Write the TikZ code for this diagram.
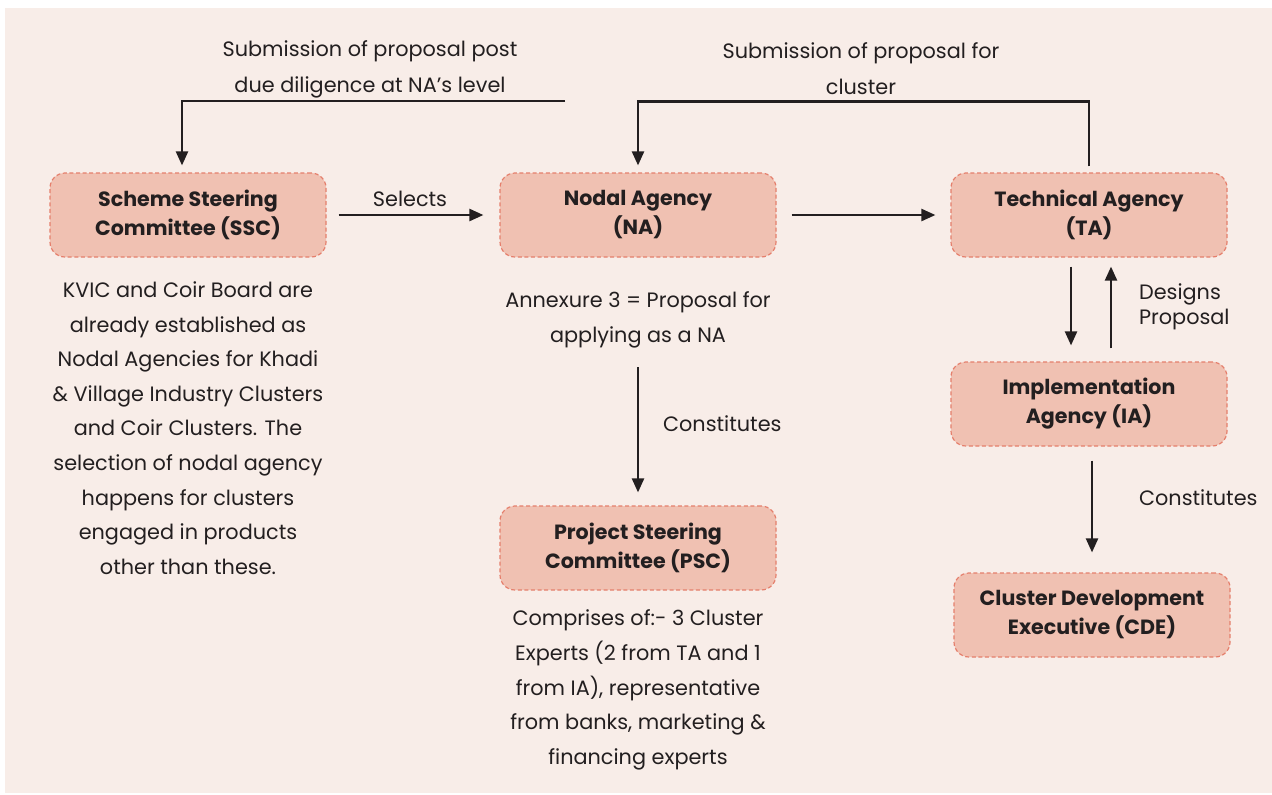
\documentclass[tikz,border=0pt]{standalone}
\usepackage{fontspec}
\setmainfont{Poppins}
\usepackage{xcolor}
\usetikzlibrary{arrows.meta}
\definecolor{panelbg}{HTML}{F8EDE8}
\definecolor{boxfill}{HTML}{F0C1B2}
\definecolor{boxline}{HTML}{E57F6C}
\definecolor{inkdark}{HTML}{231F20}

\begin{document}
\begin{tikzpicture}[x=0.5pt,y=-0.5pt,
  agency/.style={draw=boxline,fill=boxfill,line width=0.6pt,dash pattern=on 2pt off 1.3pt,
    rounded corners=7.5pt,minimum width=138pt,minimum height=42pt,align=center,
    font=\fontsize{10.3}{14.5}\selectfont\bfseries,text=inkdark},
  note/.style={align=center,font=\fontsize{10.4}{17.3}\selectfont,text=inkdark},
  flow/.style={draw=inkdark,line width=1.15pt,-{Triangle[length=7pt,width=6pt]}}]

\fill[white] (0,0) rectangle (1272,794);
\fill[panelbg] (5,8) rectangle (1272,793);

\node[agency] (ssc) at (188,215) {Scheme Steering\\Committee (SSC)};
\node[agency] (na) at (638,215) {Nodal Agency\\(NA)};
\node[agency] (ta) at (1089,215) {Technical Agency\\(TA)};
\node[agency] (ia) at (1089,404) {Implementation\\Agency (IA)};
\node[agency] (psc) at (638,548) {Project Steering\\Committee (PSC)};
\node[agency] (cde) at (1092,615) {Cluster Development\\Executive (CDE)};

\node[note] (ssctext) at (188,428) {KVIC and Coir Board are\\already established as\\Nodal Agencies for Khadi\\
  \& Village Industry Clusters\\and Coir Clusters. The\\selection of nodal agency\\happens for clusters\\
  engaged in products\\other than these.};
\node[note] (natext) at (638,320) {Annexure 3 = Proposal for\\applying as a NA};
\node[note] (psctext) at (638,690) {Comprises of:- 3 Cluster\\Experts (2 from TA and 1\\from IA), representative\\
  from banks, marketing \&\\financing experts};

\node[note,font=\fontsize{10.4}{18}\selectfont] (lefttop) at (370,69) {Submission of proposal post\\due diligence at NA’s level};
\node[note,font=\fontsize{10.4}{18}\selectfont] (righttop) at (861,69) {Submission of proposal for\\cluster};
\node[note] (selects) at (410,199) {Selects};
\node[note,anchor=west] (constna) at (656,424) {Constitutes};
\node[note,anchor=west,align=left,font=\fontsize{10.4}{12.5}\selectfont] (designs) at (1132,307) {Designs\\Proposal};
\node[note,anchor=west] (constia) at (1132,498) {Constitutes};

\coordinate (leftstart) at (565,101);

\draw[flow,shorten <=6pt,shorten >=8pt] (ssc) -- (na);
\draw[flow,shorten <=7.5pt,shorten >=7.5pt] (na) -- (ta);
\draw[flow,shorten >=3.5pt] (leftstart) -| ([xshift=-3pt]ssc.north);
\draw[flow,shorten <=3pt,shorten >=3.5pt] (ta.north) -- ++(0,-71) -| (na.north);
\draw[flow,shorten <=4.5pt,shorten >=8pt] ([xshift=-9pt]ta.south) -- ([xshift=-9pt]ia.north);
\draw[flow,shorten <=6.5pt,shorten >=4.5pt] ([xshift=11pt]ia.north) -- ([xshift=11pt]ta.south);
\draw[flow,shorten <=7pt,shorten >=10pt] (ia.south -| cde.north) -- (cde.north);
\draw[flow,shorten <=6pt,shorten >=6.5pt] (natext.south) -- (psc.north);
\end{tikzpicture}
\end{document}
